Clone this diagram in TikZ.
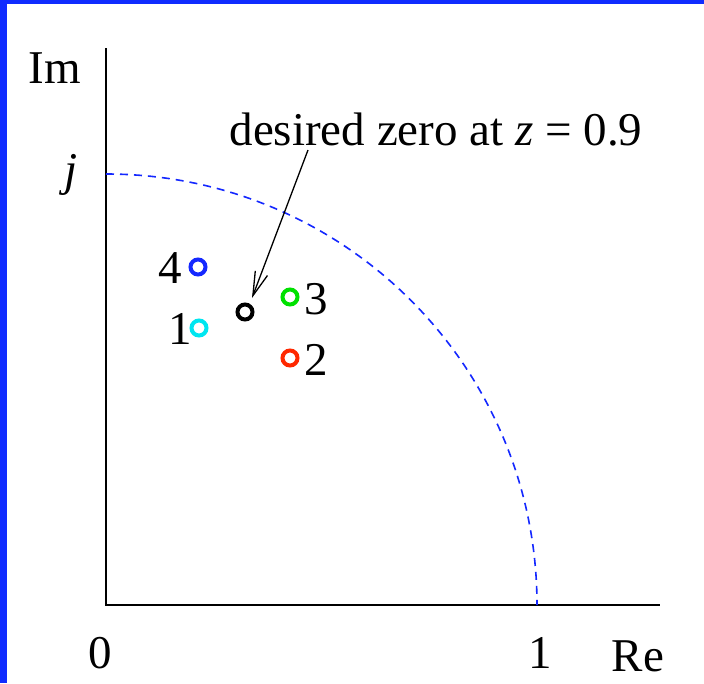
\documentclass[tikz,border=0pt]{standalone}
\usepackage{fontspec}
\setmainfont{Liberation Serif}
\usetikzlibrary{arrows.meta}
\definecolor{frameblue}{RGB}{16,44,255}
\definecolor{pcyan}{RGB}{0,230,240}
\definecolor{pgreen}{RGB}{0,225,0}
\definecolor{pred}{RGB}{255,40,0}
\definecolor{pblue}{RGB}{20,40,255}
\begin{document}
\begin{tikzpicture}[x=1pt,y=-1pt,
  lbl/.style={font=\fontsize{47}{50}\selectfont, inner sep=0pt},
  marker/.style={circle, draw, line width=4pt, minimum size=15pt, inner sep=0pt}]
\useasboundingbox (0,0) rectangle (704,683);
\fill[frameblue] (0,0) rectangle (704,683);
\fill[white] (7,4) rectangle (704,683);
% axes
\coordinate (O) at (106,605);
\coordinate (ytop) at (106,48);
\coordinate (xend) at (660,605);
\draw[line width=1.3pt] (ytop) -- (O) -- (xend);
% unit circle quarter
\draw[pblue, line width=1.6pt, dash pattern=on 8pt off 6pt] (106,174) arc[start angle=-90, end angle=0, radius=431];
% labels
\node[lbl] (im) at (55,68) {Im};
\node[lbl] (j) at (71,175) {\textit{j}};
\node[lbl] (zero) at (100,653) {0};
\node[lbl] (one) at (540,653) {1};
\node[lbl] (re) at (638,656) {Re};
% markers
\node[marker, draw=pblue] (p4) at (198,267) {};
\node[marker, draw=pcyan] (p1) at (199,328) {};
\node[marker, draw=black] (pz) at (245,312) {};
\node[marker, draw=pgreen] (p3) at (290,297) {};
\node[marker, draw=pred] (p2) at (290,358) {};
\node[lbl] (l4) at (170,268) {4};
\node[lbl] (l1) at (180,329) {1};
\node[lbl] (l3) at (316,299) {3};
\node[lbl] (l2) at (316,360) {2};
% annotation
\node[lbl] (txt) at (436,130) {desired zero at \textit{z} = 0.9};
\coordinate (astart) at (308,150);
\draw[line width=1.3pt, -{Straight Barb[length=24pt,width=13pt]}] (astart) -- (252,298);
\end{tikzpicture}
\end{document}
